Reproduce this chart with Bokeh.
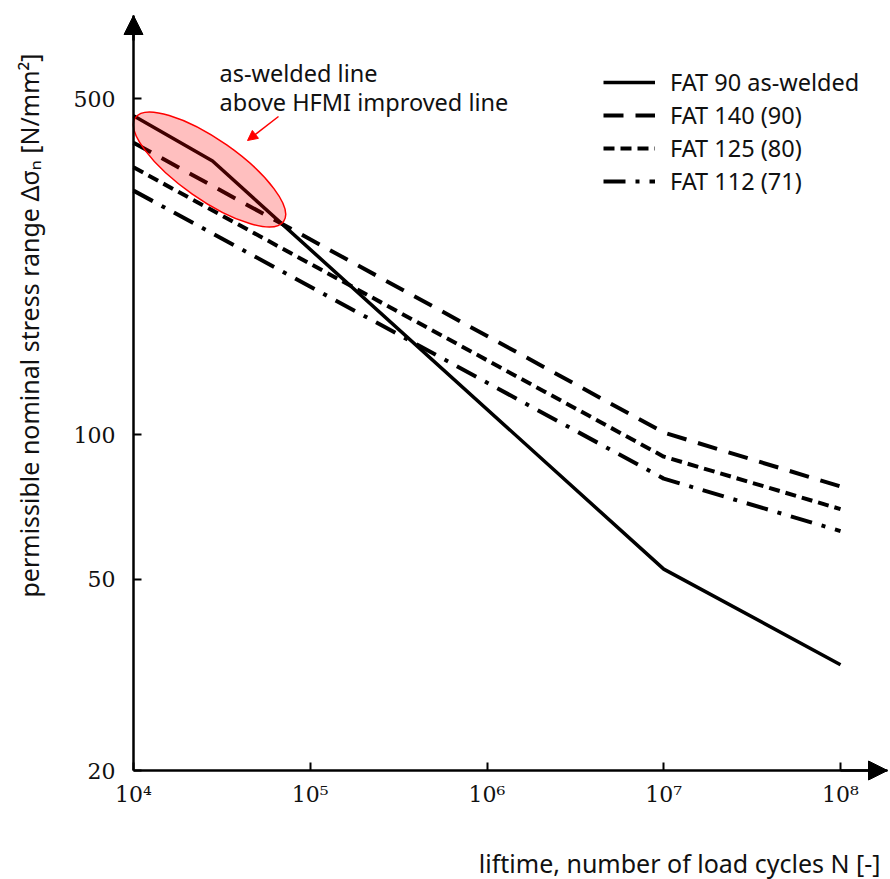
import math
from bokeh.plotting import figure
from bokeh.models import (Legend, LegendItem, Label, Arrow, NormalHead,
                          FixedTicker)
from bokeh.embed import file_html
from bokeh.resources import INLINE

# ---------------- data ----------------
n_as_welded = [1e4, 2.8e4, 1e7, 1e8]
s_as_welded = [461, 371, 52.5, 33.2]

n_hfmi = [1e4, 1e7, 1e8]
s_fat140 = [405, 101, 78]
s_fat125 = [360, 90, 70]
s_fat112 = [322, 81, 63]

series_labels = ["FAT 90 as-welded", "FAT 140 (90)", "FAT 125 (80)", "FAT 112 (71)"]

x_ticks = [10**4, 10**5, 10**6, 10**7, 10**8]
x_tick_labels = ["10⁴", "10⁵", "10⁶", "10⁷", "10⁸"]
y_ticks = [20, 50, 100, 500]
y_tick_labels = ["20", "50", "100", "500"]

x_label = "liftime, number of load cycles N [-]"
y_label = "permissible nominal stress range Δσₙ [N/mm²]"
note_lines = ["as-welded line", "above HFMI improved line"]

# ---------------- layout helpers (canvas pixel -> data) ----------------
W, H = 890, 879
X_ORIGIN_PX, X_PX_PER_DEC = 133, 176.75     # 1e4 sits at x=133 px
Y_ORIGIN_PX, Y_PX_PER_DEC = 770, 480.5      # 20 sits at y=770 px (from top)
X0, Y0 = x_ticks[0], y_ticks[0]


def xd(px):
    return X0 * 10 ** ((px - X_ORIGIN_PX) / X_PX_PER_DEC)


def yd(py):
    return Y0 * 10 ** ((Y_ORIGIN_PX - py) / Y_PX_PER_DEC)


p = figure(width=W, height=H, x_axis_type="log", y_axis_type="log",
           x_range=(xd(0), xd(W)), y_range=(yd(H), yd(0)),
           min_border=0, min_border_left=0, min_border_right=0,
           min_border_top=0, min_border_bottom=0,
           toolbar_location=None, output_backend="svg",
           outline_line_color=None,
           background_fill_color="white", border_fill_color="white")
p.xgrid.grid_line_color = None
p.ygrid.grid_line_color = None

X_TIP, Y_TIP = xd(887), yd(15)

tick_font = "DejaVu Serif"
for ax, ticks, labels in ((p.xaxis[0], x_ticks, x_tick_labels),
                          (p.yaxis[0], y_ticks, y_tick_labels)):
    ax.ticker = FixedTicker(ticks=ticks, minor_ticks=[])
    ax.major_label_overrides = dict(zip(ticks, labels))
    ax.axis_line_width = 2.5
    ax.axis_line_color = "black"
    ax.major_tick_in = 8
    ax.major_tick_out = 0
    ax.major_tick_line_width = 2
    ax.major_tick_line_color = "black"
    ax.minor_tick_line_color = None
    ax.major_label_text_font = tick_font
    ax.major_label_text_font_size = "22px"
    ax.major_label_text_color = "#111111"
p.xaxis.fixed_location = Y0
p.yaxis.fixed_location = X0
p.xaxis.bounds = (X0, X_TIP)
p.yaxis.bounds = (Y0, Y_TIP)
p.xaxis.major_label_standoff = 11
p.yaxis.major_label_standoff = 18

# ---------------- series ----------------
r_as = p.line(n_as_welded, s_as_welded, line_width=3.5, line_color="black")
r140 = p.line(n_hfmi, s_fat140, line_width=4, line_color="black", line_dash="20 12")
r125 = p.line(n_hfmi, s_fat125, line_width=4, line_color="black", line_dash="11 6")
r112 = p.line(n_hfmi, s_fat112, line_width=4, line_color="black", line_dash="22 10 4 10")

# highlight ellipse (drawn over the lines, semi-transparent)
p.ellipse(x=[xd(209)], y=[yd(169)], width=181, height=60, angle=-35,
          width_units="screen", height_units="screen", angle_units="deg",
          fill_color="red", fill_alpha=0.25, line_color="red", line_width=1.5)

# note text
text_font = "Noto Sans"
for txt, ty in zip(note_lines, [72, 101]):
    p.add_layout(Label(x=xd(219), y=yd(ty), text=txt, text_font=text_font,
                       text_font_size="23.5px", text_align="left",
                       text_baseline="middle", text_color="#111111"))

p.add_layout(Arrow(x_start=xd(278), y_start=yd(116), x_end=xd(247), y_end=yd(140),
                   line_color="red", line_width=1.5,
                   end=NormalHead(size=10, fill_color="red", line_color="red")))

# axis arrow heads
p.add_layout(Arrow(x_start=X0, y_start=yd(40), x_end=X0, y_end=Y_TIP,
                   line_color="black", line_width=2.5,
                   end=NormalHead(size=19, fill_color="black", line_color="black")))
p.add_layout(Arrow(x_start=xd(840), y_start=Y0, x_end=X_TIP, y_end=Y0,
                   line_color="black", line_width=2.5,
                   end=NormalHead(size=19, fill_color="black", line_color="black")))

# axis titles
p.add_layout(Label(x=xd(28), y=yd(325), text=y_label, angle=90, angle_units="deg",
                   text_font=text_font, text_font_size="25px",
                   text_align="center", text_baseline="middle", text_color="#111111"))
p.add_layout(Label(x=xd(880), y=yd(862), text=x_label,
                   text_font=text_font, text_font_size="25px",
                   text_align="right", text_baseline="middle", text_color="#111111"))

# legend
legend = Legend(items=[LegendItem(label=l, renderers=[r])
                       for l, r in zip(series_labels, [r_as, r140, r125, r112])],
                location=(603, H - 197), label_text_font=text_font,
                label_text_font_size="23.5px", label_text_color="#111111",
                glyph_width=52, glyph_height=28, label_height=28, spacing=1,
                padding=0, margin=0, label_standoff=15,
                border_line_color=None, background_fill_alpha=0)
p.add_layout(legend)

open("out.html", "w").write(file_html(p, INLINE))
